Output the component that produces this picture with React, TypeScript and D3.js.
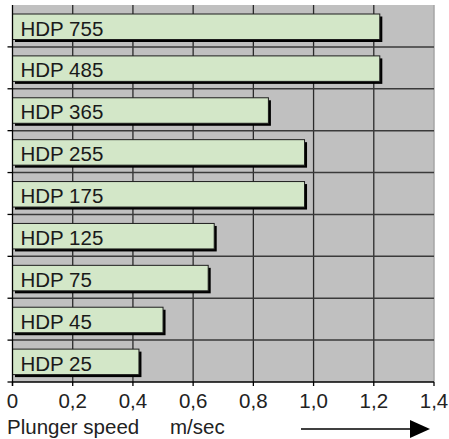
import React, { useEffect, useRef } from 'react';
import * as d3 from 'd3';

const models = ['HDP 755', 'HDP 485', 'HDP 365', 'HDP 255', 'HDP 175', 'HDP 125', 'HDP 75', 'HDP 45', 'HDP 25'];
const speeds = [1.22, 1.22, 0.85, 0.97, 0.97, 0.67, 0.65, 0.5, 0.42];
const xTicks = [0, 0.2, 0.4, 0.6, 0.8, 1.0, 1.2, 1.4];

const W = 449;
const H = 439;

const App: React.FC = () => {
  const svgRef = useRef<SVGSVGElement>(null);

  useEffect(() => {
    if (!svgRef.current) return;
    const svg = d3.select(svgRef.current);
    svg.selectAll('*').remove();

    const left = 12.5;
    const right = 434;
    const top = 5;
    const bottom = 382;
    const font = 'Arial, "Liberation Sans", sans-serif';
    const fs = 20.5;

    const x = d3.scaleLinear().domain([0, 1.4]).range([left, right]);
    const y = d3.scaleBand<string>().domain(models).range([top, bottom]).paddingInner(0).paddingOuter(0);

    // plot background
    svg.append('rect')
      .attr('x', left).attr('y', top)
      .attr('width', right - left).attr('height', bottom - top)
      .attr('fill', '#c0c0c0');

    // right edge
    svg.append('line')
      .attr('x1', right).attr('x2', right)
      .attr('y1', top).attr('y2', bottom)
      .attr('stroke', '#a6a6a6').attr('stroke-width', 1.5);

    // vertical grid
    svg.append('g')
      .selectAll('line')
      .data(xTicks.slice(1, -1))
      .join('line')
      .attr('x1', d => x(d)).attr('x2', d => x(d))
      .attr('y1', top).attr('y2', bottom)
      .attr('stroke', '#2a2a2a').attr('stroke-width', 1.3);

    // horizontal grid between bands
    svg.append('g')
      .selectAll('line')
      .data(models.slice(1))
      .join('line')
      .attr('x1', left).attr('x2', right)
      .attr('y1', d => y(d)!).attr('y2', d => y(d)!)
      .attr('stroke', '#3a3a3a').attr('stroke-width', 1.5);

    const barTop = 9;
    const barH = 25.5;

    const bars = svg.append('g')
      .selectAll('g')
      .data(models)
      .join('g');

    // shadow
    bars.append('rect')
      .attr('x', left + 2.5)
      .attr('y', d => y(d)! + barTop + 2.5)
      .attr('width', (d, i) => x(speeds[i]) - left)
      .attr('height', barH)
      .attr('fill', '#000');

    bars.append('rect')
      .attr('x', left)
      .attr('y', d => y(d)! + barTop)
      .attr('width', (d, i) => x(speeds[i]) - left)
      .attr('height', barH)
      .attr('fill', '#d3e7c8')
      .attr('stroke', '#1e1e1e')
      .attr('stroke-width', 1);

    bars.append('text')
      .attr('x', left + 8)
      .attr('y', d => y(d)! + barTop + 21.5)
      .attr('font-family', font)
      .attr('font-size', fs)
      .attr('fill', '#1a1a1a')
      .text(d => d);

    // left axis
    svg.append('line')
      .attr('x1', left).attr('x2', left)
      .attr('y1', top).attr('y2', bottom + 4)
      .attr('stroke', '#000').attr('stroke-width', 1.3);
    svg.append('g')
      .selectAll('line')
      .data(models.slice(1))
      .join('line')
      .attr('x1', left - 5).attr('x2', left)
      .attr('y1', d => y(d)!).attr('y2', d => y(d)!)
      .attr('stroke', '#000').attr('stroke-width', 1.3);
    svg.append('line')
      .attr('x1', left - 5).attr('x2', left)
      .attr('y1', bottom).attr('y2', bottom)
      .attr('stroke', '#000').attr('stroke-width', 1.3);

    // bottom axis
    svg.append('line')
      .attr('x1', left).attr('x2', right)
      .attr('y1', bottom).attr('y2', bottom)
      .attr('stroke', '#000').attr('stroke-width', 1.3);
    svg.append('g')
      .selectAll('line')
      .data(xTicks)
      .join('line')
      .attr('x1', d => x(d)).attr('x2', d => x(d))
      .attr('y1', bottom).attr('y2', bottom + 4)
      .attr('stroke', '#000').attr('stroke-width', 1.3);

    svg.append('g')
      .selectAll('text')
      .data(xTicks)
      .join('text')
      .attr('x', d => x(d))
      .attr('y', 408)
      .attr('text-anchor', 'middle')
      .attr('font-family', font)
      .attr('font-size', fs)
      .attr('fill', '#222')
      .text(d => (d === 0 ? '0' : d.toFixed(1).replace('.', ',')));

    svg.append('text')
      .attr('x', 7)
      .attr('y', 434)
      .attr('font-family', font)
      .attr('font-size', fs)
      .attr('fill', '#222')
      .text('Plunger speed');

    svg.append('text')
      .attr('x', 170)
      .attr('y', 434)
      .attr('font-family', font)
      .attr('font-size', fs)
      .attr('fill', '#222')
      .text('m/sec');

    // arrow
    svg.append('line')
      .attr('x1', 301).attr('x2', 412)
      .attr('y1', 429).attr('y2', 429)
      .attr('stroke', '#000').attr('stroke-width', 1.5);
    svg.append('path')
      .attr('d', 'M410,420 L430,429 L410,438 Z')
      .attr('fill', '#000');
  }, []);

  return (
    <div style={{ position: 'absolute', left: 0, top: 0 }}>
      <svg ref={svgRef} width={W} height={H} style={{ display: 'block', background: '#fff' }} />
    </div>
  );
};

export default App;
